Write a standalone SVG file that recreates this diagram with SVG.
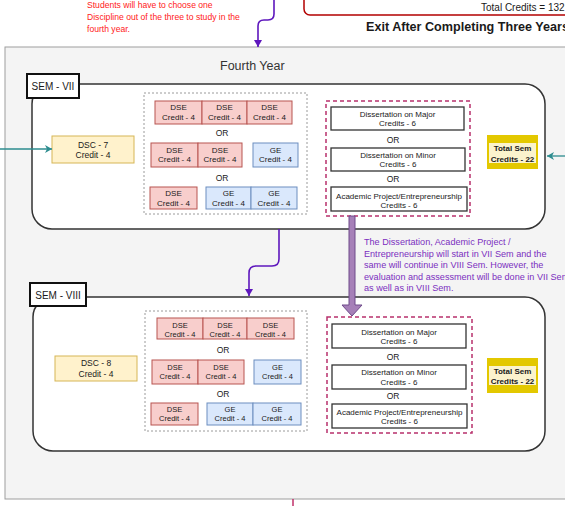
<svg xmlns="http://www.w3.org/2000/svg" width="565" height="506" viewBox="0 0 565 506">
<defs>
<style>
text{font-family:"Liberation Sans",Arial,sans-serif;fill:#1a1a1a}
.sem{fill:#fff;stroke:#333;stroke-width:1.5}
.lab{fill:#fff;stroke:#111;stroke-width:2}
.dsc{fill:#fff2cc;stroke:#d6b656;stroke-width:1}
.dse{fill:#f8cecc;stroke:#b85450;stroke-width:1}
.ge{fill:#dae8fc;stroke:#6c8ebf;stroke-width:1}
.grp{fill:#fff;stroke:#9a9a9a;stroke-width:1;stroke-dasharray:2 2}
.dis{fill:#fff;stroke:#b8306c;stroke-width:1.5;stroke-dasharray:4 3}
.db{fill:#fff;stroke:#333;stroke-width:1.3}
.tot{fill:#e3c800;stroke:none}
.toti{fill:#fbf3cd;stroke:none}
.t8{font-size:8px;text-anchor:middle}
.t7{font-size:7.5px;text-anchor:middle}
.or{font-size:8.5px;text-anchor:middle}
.tb{font-size:8px;font-weight:bold;text-anchor:middle}
.red{font-size:8.6px;fill:#ff1a1a}
.pur{font-size:9.1px;fill:#7b2fbf}
.pc{fill:none;stroke:#5e17bd;stroke-width:1.6}
.tc{fill:none;stroke:#2c8c8f;stroke-width:1.3}
</style>
<marker id="ap" markerWidth="8" markerHeight="8" refX="7" refY="4" orient="auto" markerUnits="userSpaceOnUse"><path d="M0,0 L7,4 L0,8 Z" fill="#5e17bd"/></marker>
<marker id="at" markerWidth="8" markerHeight="8" refX="7" refY="4" orient="auto" markerUnits="userSpaceOnUse"><path d="M0,0 L7,4 L0,8 L2,4 Z" fill="#2c8c8f"/></marker>
</defs>

<!-- top annotations -->
<g id="note-top">
<text class="red" x="87" y="8">Students will have to choose one</text>
<text class="red" x="87" y="19.5">Discipline out of the three to study in the</text>
<text class="red" x="87" y="31.5">fourth year.</text>
</g>
<g id="exit3">
<rect x="304" y="-12" width="280" height="27" rx="6" fill="#fff" stroke="#b30000" stroke-width="1.5"/>
<text x="481" y="11" style="font-size:10px">Total Credits = 132</text>
<text x="366" y="31" style="font-size:12.6px;font-weight:bold">Exit After Completing Three Years</text>
</g>

<!-- fourth year container -->
<g id="fourth-year">
<rect x="5" y="47" width="580" height="452" fill="#f4f4f4" stroke="#9e9e9e" stroke-width="1"/>
<text x="220" y="70" style="font-size:12.5px;fill:#333">Fourth Year</text>
</g>

<!-- SEM VII -->
<g id="sem7">
<rect class="sem" x="32" y="84" width="513" height="145" rx="20"/>
<rect class="lab" x="27" y="74" width="52" height="24"/>
<text x="53" y="90" style="font-size:10px;text-anchor:middle">SEM - VII</text>
</g>
<g id="dsc7"><rect class="dsc" x="52" y="136" width="82" height="27"/><text class="t8" x="93" y="148" style="font-size:8.5px">DSC - 7<tspan x="93" dy="10">Credit - 4</tspan></text></g>
<g id="elect7">
<rect class="grp" x="144" y="93" width="163" height="121"/>
<rect class="dse" x="155" y="101" width="47" height="23"/><text class="t8" x="178.5" y="110">DSE<tspan x="178.5" dy="9.5">Credit - 4</tspan></text>
<rect class="dse" x="202" y="101" width="45" height="23"/><text class="t8" x="224.5" y="110">DSE<tspan x="224.5" dy="9.5">Credit - 4</tspan></text>
<rect class="dse" x="247" y="101" width="45" height="23"/><text class="t8" x="269.5" y="110">DSE<tspan x="269.5" dy="9.5">Credit - 4</tspan></text>
<text class="or" x="222" y="136">OR</text>
<rect class="dse" x="151" y="143" width="47" height="24"/><text class="t8" x="174.5" y="152.5">DSE<tspan x="174.5" dy="9.5">Credit - 4</tspan></text>
<rect class="dse" x="198" y="143" width="44" height="24"/><text class="t8" x="220" y="152.5">DSE<tspan x="220" dy="9.5">Credit - 4</tspan></text>
<rect class="ge" x="253" y="143" width="45" height="24"/><text class="t8" x="275.5" y="152.5">GE<tspan x="275.5" dy="9.5">Credit - 4</tspan></text>
<text class="or" x="222" y="181">OR</text>
<rect class="dse" x="150" y="187" width="47" height="22"/><text class="t8" x="173.5" y="196">DSE<tspan x="173.5" dy="9.5">Credit - 4</tspan></text>
<rect class="ge" x="206" y="187" width="45" height="22"/><text class="t8" x="228.5" y="196">GE<tspan x="228.5" dy="9.5">Credit - 4</tspan></text>
<rect class="ge" x="251" y="187" width="46" height="22"/><text class="t8" x="274" y="196">GE<tspan x="274" dy="9.5">Credit - 4</tspan></text>
</g>
<g id="diss7">
<rect class="dis" x="326" y="101" width="144" height="115"/>
<rect class="db" x="331" y="107" width="133" height="23"/><text class="t8" x="397.5" y="117">Dissertation on Major<tspan x="397.5" dy="9">Credits - 6</tspan></text>
<text class="or" x="393" y="143">OR</text>
<rect class="db" x="331" y="148" width="134" height="23"/><text class="t8" x="398" y="158">Dissertation on Minor<tspan x="398" dy="9">Credits - 6</tspan></text>
<text class="or" x="393" y="182">OR</text>
<rect class="db" x="331" y="187" width="136" height="24"/><text class="t8" x="399" y="199">Academic Project/Entrepreneurship<tspan x="399" dy="9">Credits - 6</tspan></text>
</g>
<g id="total7">
<rect class="tot" x="487" y="135" width="51" height="34"/>
<rect class="toti" x="489" y="143" width="47" height="20"/>
<text class="tb" x="512.5" y="151">Total Sem<tspan x="512.5" dy="10.5">Credits - 22</tspan></text>
</g>

<!-- SEM VIII -->
<g id="sem8">
<rect class="sem" x="33" y="297" width="512" height="154" rx="20"/>
<rect class="lab" x="30" y="283" width="56" height="23"/>
<text x="58" y="299" style="font-size:10px;text-anchor:middle">SEM - VIII</text>
</g>
<g id="dsc8"><rect class="dsc" x="55" y="356" width="82" height="25"/><text class="t8" x="96" y="366" style="font-size:8.5px">DSC - 8<tspan x="96" dy="11">Credit - 4</tspan></text></g>
<g id="elect8">
<rect class="grp" x="145" y="311" width="162" height="120"/>
<rect class="dse" x="157" y="318" width="46" height="21"/><text class="t7" x="180" y="328">DSE<tspan x="180" dy="9">Credit - 4</tspan></text>
<rect class="dse" x="203" y="318" width="44" height="21"/><text class="t7" x="225" y="328">DSE<tspan x="225" dy="9">Credit - 4</tspan></text>
<rect class="dse" x="247" y="318" width="47" height="21"/><text class="t7" x="270.5" y="328">DSE<tspan x="270.5" dy="9">Credit - 4</tspan></text>
<text class="or" x="223" y="353">OR</text>
<rect class="dse" x="152" y="360" width="46" height="24"/><text class="t7" x="175" y="370">DSE<tspan x="175" dy="9">Credit - 4</tspan></text>
<rect class="dse" x="198" y="360" width="46" height="24"/><text class="t7" x="221" y="370">DSE<tspan x="221" dy="9">Credit - 4</tspan></text>
<rect class="ge" x="254" y="360" width="47" height="24"/><text class="t7" x="277.5" y="370">GE<tspan x="277.5" dy="9">Credit - 4</tspan></text>
<text class="or" x="223" y="397">OR</text>
<rect class="dse" x="151" y="403" width="47" height="22"/><text class="t7" x="174.5" y="412">DSE<tspan x="174.5" dy="9">Credit - 4</tspan></text>
<rect class="ge" x="207" y="403" width="46" height="22"/><text class="t7" x="230" y="412">GE<tspan x="230" dy="9">Credit - 4</tspan></text>
<rect class="ge" x="253" y="403" width="48" height="22"/><text class="t7" x="277" y="412">GE<tspan x="277" dy="9">Credit - 4</tspan></text>
</g>
<g id="diss8">
<rect class="dis" x="327" y="317" width="145" height="116"/>
<rect class="db" x="332" y="324" width="134" height="24"/><text class="t8" x="399" y="335">Dissertation on Major<tspan x="399" dy="9">Credits - 6</tspan></text>
<text class="or" x="393" y="360">OR</text>
<rect class="db" x="332" y="365" width="134" height="24"/><text class="t8" x="399" y="375">Dissertation on Minor<tspan x="399" dy="10">Credits - 6</tspan></text>
<text class="or" x="393" y="399">OR</text>
<rect class="db" x="332" y="404" width="135" height="24"/><text class="t8" x="399.5" y="415">Academic Project/Entrepreneurship<tspan x="399.5" dy="9">Credits - 6</tspan></text>
</g>
<g id="total8">
<rect class="tot" x="487" y="358" width="51" height="35"/>
<rect class="toti" x="489" y="366" width="47" height="19"/>
<text class="tb" x="512.5" y="374">Total Sem<tspan x="512.5" dy="10">Credits - 22</tspan></text>
</g>

<!-- note -->
<g id="note-diss">
<text class="pur" x="364" y="245">The Dissertation, Academic Project /</text>
<text class="pur" x="364" y="256.5">Entrepreneurship will start in VII Sem and the</text>
<text class="pur" x="364" y="268">same will continue in VIII Sem. However, the</text>
<text class="pur" x="364" y="279.5">evaluation and assessment will be done in VII Sem</text>
<text class="pur" x="364" y="291">as well as in VIII Sem.</text>
</g>

<!-- connectors -->
<g id="connectors">
<path class="pc" d="M274,0 V14 Q274,20 268,20 H264 Q258,20 258,26 V47" marker-end="url(#ap)"/>
<path class="pc" d="M279,229 V259 Q279,266 272,266 H256 Q249,266 249,273 V296" marker-end="url(#ap)"/>
<path class="tc" d="M0,149 H52" marker-end="url(#at)"/>
<path class="tc" d="M565,156 H547" marker-end="url(#at)"/>
<polygon points="349,216 355,216 355,305 362,305 352,316 342,305 349,305" fill="#a680b8" stroke="#6f4a8a" stroke-width="1"/>
<path d="M293,499 V506" stroke="#c0306a" stroke-width="1.5" fill="none"/>
</g>
</svg>
